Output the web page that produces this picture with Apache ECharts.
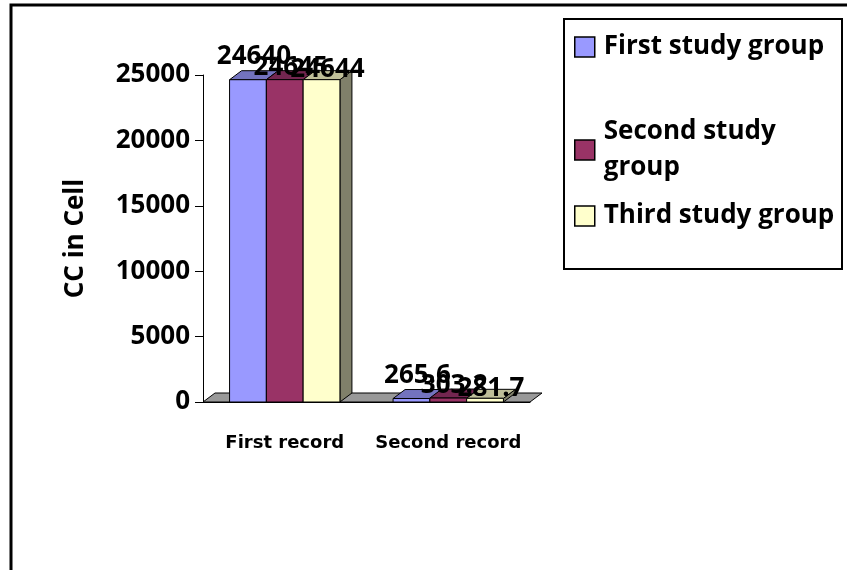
<!DOCTYPE html>
<html>
<head>
<meta charset="utf-8">
<script src="https://cdn.jsdelivr.net/npm/echarts@6/dist/echarts.min.js"></script>
<style>
    html, body { margin: 0; padding: 0; background: #fff; }
    #myChart { width: 847px; height: 570px; }
</style>
</head>
<body>
<div id="myChart"></div>
<script>
    // data
    var categories = ['First record', 'Second record']
    var seriesNames = ['First study group', 'Second study group', 'Third study group']
    var firstGroup = [24640, 265.6]
    var secondGroup = [24645, 303.2]
    var thirdGroup = [24644, 281.7]
    var yTicks = [0, 5000, 10000, 15000, 20000, 25000]

    var groups = [firstGroup, secondGroup, thirdGroup]
    var frontColors = ['#9999FF', '#993366', '#FFFFCC']
    var topColors = ['#7373BF', '#732650', '#BFBF99']
    var sideColors = ['#5C5C99', '#5C1F3D', '#80806A']
    var labelLift = [23, 12, 10]
    var DX = 12, DY = -9
    var calibri = 'Open Sans'

    function barRender(sIdx) {
        return function (params, api) {
            var cat = api.value(0), val = api.value(1)
            var base = api.coord([cat, 0])
            var top = api.coord([cat, val])
            var band = api.size([1, 0])[0]
            var w = band * 0.225
            var x0 = base[0] - 1.5 * w + sIdx * w, x1 = x0 + w
            var y0 = base[1], y1 = top[1]
            var line = {stroke: '#000', lineWidth: 1}
            return {
                type: 'group',
                children: [
                    {type: 'polygon', shape: {points: [[x1, y0], [x1 + DX, y0 + DY], [x1 + DX, y1 + DY], [x1, y1]]},
                        style: Object.assign({fill: sideColors[sIdx]}, line)},
                    {type: 'polygon', shape: {points: [[x0, y1], [x1, y1], [x1 + DX, y1 + DY], [x0 + DX, y1 + DY]]},
                        style: Object.assign({fill: topColors[sIdx]}, line)},
                    {type: 'rect', shape: {x: x0, y: y1, width: w, height: y0 - y1},
                        style: Object.assign({fill: frontColors[sIdx]}, line)},
                    {type: 'text', z2: 100, style: {
                        text: String(val), x: (x0 + x1) / 2 + DX / 2, y: y1 - labelLift[sIdx],
                        align: 'center', verticalAlign: 'middle', fill: '#000',
                        font: 'bold 26px "' + calibri + '"'}}
                ]
            }
        }
    }

    function floorRender(params, api) {
        var cs = params.coordSys
        var yb = cs.y + cs.height
        return {
            type: 'polygon',
            shape: {points: [[cs.x, yb], [cs.x + cs.width, yb], [cs.x + cs.width + DX, yb + DY], [cs.x + DX, yb + DY]]},
            style: {fill: '#999999', stroke: '#000', lineWidth: 1}
        }
    }

    var series = [{
        type: 'custom', name: 'floor', renderItem: floorRender, data: [[0]], z: 1, silent: true
    }]
    groups.forEach(function (g, i) {
        series.push({
            type: 'custom',
            name: seriesNames[i],
            itemStyle: {color: frontColors[i]},
            renderItem: barRender(i),
            data: g.map(function (v, c) { return [c, v] }),
            z: 2 + i
        })
    })

    function legendAt(name, top, fmt) {
        return {
            data: [name], orient: 'vertical', left: 574, top: top, padding: 0,
            icon: 'rect', itemWidth: 20, itemHeight: 20,
            itemStyle: {borderColor: '#000', borderWidth: 1.5},
            formatter: fmt,
            textStyle: {fontFamily: calibri, fontWeight: 'bold', fontSize: 26, color: '#000',
                lineHeight: 36, padding: [0, 0, 0, 4]}
        }
    }

    var opt = {
        animation: false,
        grid: {left: 203, right: 317, top: 75, bottom: 168},
        legend: [
            legendAt(seriesNames[0], 29),
            legendAt(seriesNames[1], 114, function () { return 'Second study\ngroup' }),
            legendAt(seriesNames[2], 198)
        ],
        graphic: [
            {type: 'rect', shape: {x: 564, y: 19, width: 278, height: 250},
                style: {fill: 'none', stroke: '#000', lineWidth: 2}, z: 0},
            {type: 'rect', shape: {x: 11, y: 5, width: 900, height: 700},
                style: {fill: 'none', stroke: '#000', lineWidth: 3}, z: 0}
        ],
        xAxis: {
            type: 'category',
            data: categories,
            axisLine: {lineStyle: {color: '#000', width: 1}},
            axisTick: {length: 8, lineStyle: {color: '#000'}},
            axisLabel: {interval: 0, margin: 32, color: '#000', fontFamily: 'DejaVu Sans', fontWeight: 'bold', fontSize: 18}
        },
        yAxis: {
            type: 'value',
            min: yTicks[0], max: yTicks[yTicks.length - 1], interval: yTicks[1] - yTicks[0],
            name: 'CC in Cell', nameLocation: 'middle', nameGap: 114, nameRotate: 90,
            nameTextStyle: {fontFamily: calibri, fontWeight: 'bold', fontSize: 26, color: '#000'},
            axisLine: {show: true, lineStyle: {color: '#000', width: 1}},
            axisTick: {show: true, length: 8, lineStyle: {color: '#000'}},
            splitLine: {show: false},
            axisLabel: {margin: 13, color: '#000', fontFamily: calibri, fontWeight: 'bold', fontSize: 26,
                formatter: function (v) { return String(v) }}
        },
        series: series
    }

    var myChart = echarts.init(document.getElementById('myChart'))
    myChart.setOption(opt)
</script>
</body>
</html>
